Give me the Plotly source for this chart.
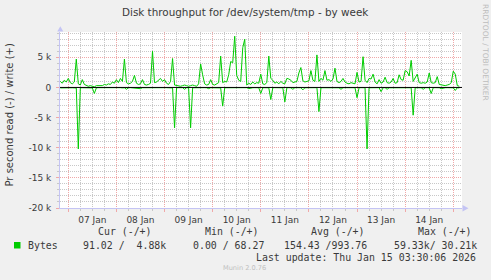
import plotly.graph_objects as go
import pandas as pd

# ---------------- data (hourly samples, bytes per second) ----------------
start_time = "2026-01-06 20:00"
write_bytes = (
    [1000, 700, 1200, 900]
    + [1500, 800, 600, 900, 4700, 600, 400, 1300, 500, 300, 200, 300,
       200, 100, 300, 300, 400, 300, 500, 400, 600, 500, 900, 700]
    + [1300, 800, 1500, 1000, 4700, 800, 600, 700, 1000, 2000, 700, 500,
       600, 1300, 500, 400, 500, 700, 6000, 800, 900, 1200, 1500, 1000]
    + [1300, 700, 500, 1000, 4800, 400, 300, 300, 200, 300, 400, 300,
       200, 300, 400, 300, 200, 600, 3900, 2100, 600, 400, 500, 1300]
    + [500, 400, 600, 800, 5200, 800, 1000, 900, 2100, 4300, 4100, 8500,
       2000, 1200, 1000, 6600, 8000, 400, 700, 500, 900, 600, 800, 700]
    + [2200, 600, 500, 800, 5200, 1500, 1200, 700, 900, 600, 1000, 700,
       600, 1500, 1400, 1200, 800, 900, 1000, 2400, 3300, 1100, 900, 1000]
    + [1100, 2800, 1200, 1000, 5400, 1000, 1500, 1200, 2800, 1200, 1300, 1000,
       1400, 3200, 1000, 800, 1000, 1500, 900, 700, 600, 800, 700, 600]
    + [2500, 900, 1000, 5100, 1200, 800, 1500, 1400, 2200, 900, 600, 1300,
       700, 900, 1700, 800, 700, 900, 1500, 700, 800, 2100, 1300, 1200]
    + [2800, 2600, 1900, 4500, 1000, 1500, 2200, 800, 700, 800, 700, 900,
       2400, 800, 700, 800, 1800, 500, 400, 400, 300, 400, 500, 800]
    + [2700, 2200, 300, 200]
)
read_bytes = (
    [80, 60, 100, 50]
    + [50, 40, 60, 80, 100, 10200, 60, 50, 40, 30, 60, 50,
       80, 1000, 60, 40, 30, 50, 40, 60, 50, 40, 80, 60]
    + [60, 50, 40, 80, 60, 300, 50, 40, 60, 50, 40, 60,
       200, 50, 40, 60, 50, 40, 60, 80, 50, 40, 60, 50]
    + [50, 40, 60, 50, 80, 6700, 60, 40, 50, 40, 300, 50,
       40, 6700, 60, 40, 50, 40, 60, 50, 40, 60, 200, 50]
    + [40, 60, 50, 40, 80, 3100, 60, 50, 40, 60, 50, 80,
       60, 50, 40, 60, 50, 40, 200, 60, 50, 40, 60, 50]
    + [1000, 60, 50, 40, 60, 2000, 50, 40, 60, 50, 40, 60,
       2400, 50, 40, 60, 300, 50, 40, 60, 50, 400, 60, 50]
    + [50, 40, 60, 50, 40, 4000, 60, 50, 40, 60, 50, 40,
       60, 50, 40, 60, 300, 50, 40, 60, 50, 40, 60, 50]
    + [1700, 50, 40, 60, 50, 10200, 60, 50, 40, 60, 50, 40,
       700, 50, 40, 300, 60, 50, 40, 60, 50, 40, 60, 50]
    + [50, 40, 60, 50, 4600, 60, 50, 40, 60, 300, 50, 40,
       60, 1000, 50, 40, 60, 50, 200, 60, 50, 40, 60, 50]
    + [60, 500, 50, 90]
)
y_tick_vals = [-20000, -15000, -10000, -5000, 0, 5000]
y_tick_text = ["-20 k", "-15 k", "-10 k", "-5 k", "0", "5 k"]
legend_headers = ["Cur (-/+)", "Min (-/+)", "Avg (-/+)", "Max (-/+)"]
legend_values = ["91.02 /  4.88k", "0.00 / 68.27", "154.43 /993.76", "59.33k/ 30.21k"]
series_name = "Bytes"
title_text = "Disk throughput for /dev/system/tmp - by week"
y_title = "Pr second read (-) / write (+)"
last_update = "Last update: Thu Jan 15 03:30:06 2026"
x_range = ["2026-01-06 19:52", "2026-01-15 04:21"]
y_range = [-20000, 9200]

times = pd.date_range(start_time, periods=len(write_bytes), freq="h")
read_neg = [-v for v in read_bytes]

# ---------------- layout geometry ----------------
W, H = 491, 280
L, R, T, B = 60, 29, 32, 72
PW, PH = W - L - R, H - T - B


def px(x):
    return (x - L) / PW


def py(y):
    return (T + PH - y) / PH


GREEN = "#00CC00"
AXIS = "#c4c4f4"
MAJ = "#f0a8a8"
MIN = "#c8c8c8"
TXT = "#3a3a3a"
DOT = "1px,1px"

fig = go.Figure()
fig.add_trace(go.Scatter(x=times, y=read_neg, mode="lines",
                         line=dict(color=GREEN, width=1), hoverinfo="skip"))
fig.add_trace(go.Scatter(x=times, y=write_bytes, mode="lines",
                         line=dict(color=GREEN, width=1), hoverinfo="skip"))

fig.update_layout(
    width=W, height=H,
    margin=dict(l=L, r=R, t=T, b=B, pad=0),
    paper_bgcolor="#F0F0F0",
    plot_bgcolor="#FFFFFF",
    showlegend=False,
    font=dict(family="DejaVu Sans", size=9, color=TXT),
)

fig.update_xaxes(
    type="date", range=x_range,
    tickmode="linear", tick0="2026-01-07", dtick=86400000,
    tickformat="%d %b", ticklabelmode="period",
    showgrid=True, gridcolor=MAJ, griddash=DOT, gridwidth=1,
    ticks="outside", ticklen=3, tickcolor=MAJ,
    showline=True, linecolor=AXIS, linewidth=1,
    tickfont=dict(family="DejaVu Sans", size=9, color=TXT),
    zeroline=False,
    minor=dict(tickmode="linear", dtick=6 * 3600000, tick0="2026-01-07",
               showgrid=True, gridcolor=MIN, griddash=DOT, ticks="outside",
               ticklen=2, tickcolor=MIN),
)
fig.update_yaxes(
    range=y_range, tickmode="array", tickvals=y_tick_vals, ticktext=y_tick_text,
    showgrid=True, gridcolor=MAJ, griddash=DOT,
    ticks="outside", ticklen=3, tickcolor=MAJ,
    showline=True, linecolor=AXIS, linewidth=1,
    zeroline=False,
    tickfont=dict(family="DejaVu Sans", size=9, color=TXT),
    ticklabelstandoff=3,
    minor=dict(tickmode="linear", dtick=1000, tick0=0, showgrid=True,
               gridcolor=MIN, griddash=DOT, ticks="outside", ticklen=2,
               tickcolor=MIN),
)

shapes = [
    dict(type="line", xref="paper", yref="y", x0=0, x1=1, y0=0, y1=0,
         line=dict(color="black", width=1), layer="above"),
    dict(type="path", xref="paper", yref="paper",
         path=f"M {px(57.3)} {py(31.5)} L {px(63.3)} {py(31.5)} L {px(60.3)} {py(26.3)} Z",
         fillcolor=AXIS, line=dict(width=0)),
    dict(type="path", xref="paper", yref="paper",
         path=f"M {px(462.5)} {py(205)} L {px(462.5)} {py(211.5)} L {px(468.5)} {py(208.2)} Z",
         fillcolor=AXIS, line=dict(width=0)),
    dict(type="rect", xref="paper", yref="paper",
         x0=px(14), x1=px(20.5), y0=py(248.5), y1=py(242),
         fillcolor=GREEN, line=dict(width=0)),
]
fig.update_layout(shapes=shapes)

ann = []


def add_text(text, x, y, size, color=TXT, family="DejaVu Sans", xanchor="center",
             angle=0):
    ann.append(dict(text=text.replace(" ", "\u00a0"), x=px(x), y=py(y),
                    xref="paper", yref="paper", showarrow=False,
                    xanchor=xanchor, yanchor="middle", textangle=angle,
                    font=dict(family=family, size=size, color=color),
                    borderpad=0))


add_text(title_text, 244.5, 12, 10.4)
add_text(y_title, 9, 115.5, 10, angle=-90)
add_text("RRDTOOL / TOBI OETIKER", 485, 53, 7.5, color="#bdbdbd", angle=90)
add_text("Munin 2.0.76", 244.7, 268, 6.6, color="#c0c0c0")

MONO = "DejaVu Sans Mono"
hdr_x = [97.3, 204, 310, 416.7]
val_x = [82.3, 192.3, 283.3, 393.3]
for t, x in zip(legend_headers, hdr_x):
    add_text(t, x, 232, 9.9, family=MONO, xanchor="left")
add_text(series_name, 26.7, 245, 9.9, family=MONO, xanchor="left")
for t, x in zip(legend_values, val_x):
    add_text(t, x, 245, 9.9, family=MONO, xanchor="left")
add_text(last_update, 476.7, 257, 9.9, family=MONO, xanchor="right")

fig.update_layout(annotations=ann)
fig.write_html("out.html")
